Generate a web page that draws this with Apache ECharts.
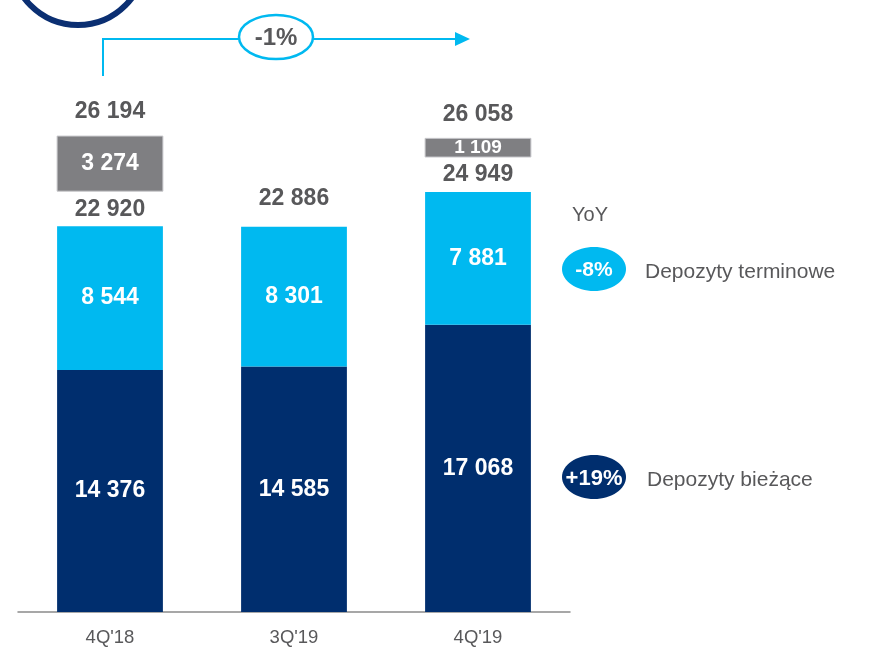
<!DOCTYPE html>
<html>
<head>
<meta charset="utf-8">
<script src="https://cdn.jsdelivr.net/npm/echarts@6/dist/echarts.min.js"></script>
<style>
  html, body { margin: 0; padding: 0; background: #fff; }
  #chart { width: 875px; height: 660px; }
</style>
</head>
<body>
<div id="chart"></div>
<script>
// ---- data ----
const categories = ["4Q'18", "3Q'19", "4Q'19"];
const currentDeposits = [14376, 14585, 17068];   // Depozyty bieżące
const termDeposits = [8544, 8301, 7881];         // Depozyty terminowe
const subtotals = [22920, 22886, 24949];
const otherValues = [3274, null, 1109];          // grey segment
const grandTotals = [26194, null, 26058];
const yoyTerm = '-8%';
const yoyCurrent = '+19%';
const changeLabel = '-1%';

// ---- style ----
const FONT = "'Liberation Sans', Arial, sans-serif";
const DARK = '#002e6e';
const LIGHT = '#00b9f0';
const GREY = '#7f7f82';
const TEXT = '#58585a';
const GAP = 35;

function fmt(v) {
  return String(v).replace(/\B(?=(\d{3})+(?!\d))/g, ' ');
}

const customData = categories.map((c, i) => [
  i, subtotals[i],
  otherValues[i] == null ? '-' : otherValues[i],
  grandTotals[i] == null ? '-' : grandTotals[i]
]);

const chart = echarts.init(document.getElementById('chart'));
chart.setOption({
  animation: false,
  grid: { left: 18, right: 305, top: 107, bottom: 48 },
  xAxis: {
    type: 'category',
    data: categories,
    axisLine: { show: true, lineStyle: { color: '#8a8a8a', width: 1.5 } },
    axisTick: { show: false },
    axisLabel: { color: TEXT, fontSize: 18.5, fontFamily: FONT, margin: 16 }
  },
  yAxis: { type: 'value', min: 0, max: 30000, show: false, splitLine: { show: false } },
  series: [
    {
      name: 'Depozyty bieżące', type: 'bar', stack: 'dep', barWidth: '57.5%',
      data: currentDeposits,
      itemStyle: { color: DARK },
      label: { show: true, position: 'inside', color: '#fff', fontWeight: 'bold',
               fontSize: 23, fontFamily: FONT, formatter: p => fmt(p.value) }
    },
    {
      name: 'Depozyty terminowe', type: 'bar', stack: 'dep', barWidth: '57.5%',
      data: termDeposits,
      itemStyle: { color: LIGHT },
      label: { show: true, position: 'inside', color: '#fff', fontWeight: 'bold',
               fontSize: 23, fontFamily: FONT, formatter: p => fmt(p.value) }
    },
    {
      type: 'custom',
      clip: false,
      silent: true,
      encode: { x: 0, y: 1 },
      data: customData,
      renderItem: function (params, api) {
        const idx = api.value(0);
        const total = api.value(1);
        const other = api.value(2);
        const grand = api.value(3);
        const top = api.coord([idx, total]);
        const bw = api.size([1, 0])[0] * 0.575;
        const cx = top[0];
        const children = [];
        const labelStyle = (txt, y, size, color) => ({
          type: 'text',
          style: { text: txt, x: cx, y: y, align: 'center', verticalAlign: 'middle',
                   fill: color, font: 'bold ' + size + 'px ' + FONT }
        });
        if (!isNaN(other)) {
          const h = api.size([0, other])[1];
          const yb = top[1] - GAP;
          children.push({
            type: 'rect',
            shape: { x: cx - bw / 2, y: yb - h, width: bw, height: h },
            style: { fill: GREY, stroke: '#c8c8cc', lineWidth: 1 }
          });
          children.push(labelStyle(fmt(other), yb - h / 2, h < 30 ? 19 : 23, '#fff'));
          children.push(labelStyle(fmt(grand), yb - h - 24, 23, TEXT));
          children.push(labelStyle(fmt(total), top[1] - 17, 23, TEXT));
        } else {
          children.push(labelStyle(fmt(total), top[1] - 28, 23, TEXT));
        }
        return { type: 'group', children: children };
      }
    }
  ],
  graphic: [
    // decorative ring at top-left
    { type: 'circle', shape: { cx: 78, cy: -42, r: 67 },
      style: { fill: 'none', stroke: '#0b2f72', lineWidth: 6 } },
    // change arrow
    { type: 'polyline', shape: { points: [[103, 76], [103, 39], [458, 39]] },
      style: { fill: 'none', stroke: LIGHT, lineWidth: 2 } },
    { type: 'polygon', shape: { points: [[455, 32], [470, 39], [455, 46]] },
      style: { fill: LIGHT } },
    { type: 'ellipse', shape: { cx: 276, cy: 37, rx: 37, ry: 22 },
      style: { fill: '#fff', stroke: LIGHT, lineWidth: 2.5 } },
    { type: 'text', x: 276, y: 38,
      style: { text: changeLabel, align: 'center', verticalAlign: 'middle',
               fill: TEXT, font: 'bold 24px ' + FONT } },
    // YoY legend
    { type: 'text', x: 572, y: 215,
      style: { text: 'YoY', align: 'left', verticalAlign: 'middle',
               fill: TEXT, font: '20px ' + FONT } },
    { type: 'ellipse', shape: { cx: 594, cy: 269, rx: 32, ry: 22 },
      style: { fill: LIGHT } },
    { type: 'text', x: 594, y: 270,
      style: { text: yoyTerm, align: 'center', verticalAlign: 'middle',
               fill: '#fff', font: 'bold 21px ' + FONT } },
    { type: 'text', x: 645, y: 272,
      style: { text: 'Depozyty terminowe', align: 'left', verticalAlign: 'middle',
               fill: TEXT, font: '21px ' + FONT } },
    { type: 'ellipse', shape: { cx: 594, cy: 477, rx: 32, ry: 22 },
      style: { fill: DARK } },
    { type: 'text', x: 594, y: 479,
      style: { text: yoyCurrent, align: 'center', verticalAlign: 'middle',
               fill: '#fff', font: 'bold 22px ' + FONT } },
    { type: 'text', x: 647, y: 480,
      style: { text: 'Depozyty bieżące', align: 'left', verticalAlign: 'middle',
               fill: TEXT, font: '21px ' + FONT } }
  ]
});
</script>
</body>
</html>
